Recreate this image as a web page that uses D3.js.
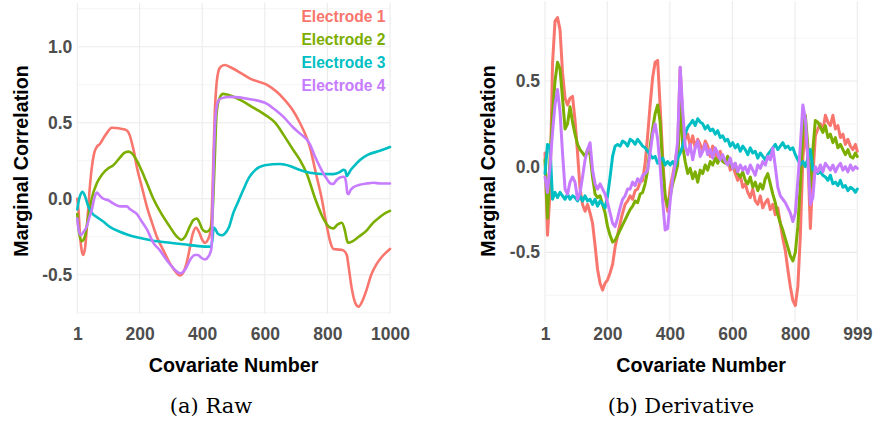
<!DOCTYPE html>
<html>
<head>
<meta charset="utf-8">
<script src="https://cdn.jsdelivr.net/npm/d3@7"></script>
<style>
  body { margin: 0; background: #ffffff; }
  svg { display: block; }
</style>
</head>
<body>
<svg id="chart" width="875" height="424"></svg>
<script>
// ---------- data ----------
const electrodes = ["Electrode 1", "Electrode 2", "Electrode 3", "Electrode 4"];
const electrodeColors = ["#F8766D", "#7CAE00", "#00BFC4", "#C77CFF"];

// Raw marginal correlations: [covariate, correlation]
const rawE1 = [[1,0.0],[5,-0.08],[10,-0.25],[15,-0.34],[20,-0.37],[26,-0.32],[33,-0.15],[40,0.05],[47,0.20],[55,0.30],[63,0.34],[73,0.36],[85,0.40],[98,0.44],[111,0.467],[125,0.465],[140,0.46],[159,0.45],[168,0.42],[175,0.37],[183,0.30],[191,0.21],[207,0.08],[223,-0.05],[240,-0.16],[255,-0.25],[276,-0.34],[297,-0.425],[315,-0.48],[329,-0.505],[338,-0.49],[348,-0.44],[358,-0.35],[370,-0.23],[380,-0.19],[390,-0.22],[400,-0.27],[409,-0.29],[418,-0.27],[425,-0.23],[430,-0.12],[435,0.2],[440,0.55],[446,0.76],[452,0.84],[460,0.87],[473,0.88],[490,0.865],[521,0.83],[553,0.79],[606,0.75],[640,0.70],[659,0.66],[690,0.58],[712,0.50],[728,0.43],[744,0.34],[763,0.17],[782,0.0],[798,-0.18],[810,-0.29],[819,-0.33],[840,-0.335],[851,-0.34],[862,-0.37],[868,-0.45],[877,-0.58],[890,-0.69],[900,-0.71],[910,-0.68],[925,-0.60],[940,-0.50],[957,-0.43],[975,-0.38],[1000,-0.33]];
const rawE2 = [[1,-0.10],[5,-0.20],[15,-0.28],[25,-0.25],[36,-0.12],[47,0.0],[63,0.10],[80,0.16],[100,0.20],[116,0.22],[137,0.27],[150,0.30],[164,0.31],[175,0.30],[190,0.255],[201,0.21],[220,0.12],[244,0.0],[270,-0.10],[297,-0.185],[315,-0.24],[334,-0.27],[345,-0.25],[361,-0.18],[372,-0.14],[383,-0.13],[392,-0.16],[400,-0.20],[409,-0.215],[415,-0.217],[425,-0.20],[430,-0.18],[435,-0.02],[440,0.25],[446,0.56],[455,0.66],[467,0.69],[480,0.685],[521,0.65],[563,0.60],[606,0.545],[633,0.50],[660,0.42],[691,0.32],[712,0.255],[735,0.16],[761,0.0],[787,-0.13],[805,-0.185],[819,-0.195],[832,-0.17],[846,-0.158],[856,-0.21],[862,-0.27],[867,-0.29],[880,-0.28],[900,-0.25],[925,-0.21],[945,-0.16],[968,-0.12],[985,-0.095],[1000,-0.08]];
const rawE3 = [[1,-0.07],[5,-0.02],[10,0.02],[18,0.046],[25,0.02],[36,-0.05],[50,-0.10],[63,-0.12],[84,-0.15],[105,-0.185],[137,-0.217],[160,-0.235],[191,-0.254],[240,-0.275],[297,-0.29],[361,-0.305],[414,-0.315],[428,-0.315],[432,-0.28],[437,-0.19],[442,-0.20],[450,-0.23],[462,-0.24],[472,-0.23],[485,-0.19],[499,-0.096],[515,-0.02],[531,0.057],[550,0.14],[570,0.19],[600,0.22],[649,0.228],[680,0.215],[710,0.19],[744,0.171],[780,0.163],[819,0.162],[840,0.175],[851,0.19],[857,0.185],[862,0.15],[866,0.16],[875,0.19],[890,0.225],[904,0.255],[930,0.29],[968,0.315],[1000,0.34]];
const rawE4 = [[1,-0.13],[5,-0.20],[12,-0.24],[20,-0.22],[30,-0.19],[40,-0.12],[47,-0.075],[55,0.0],[63,0.04],[73,0.02],[84,0.0],[100,-0.01],[115,-0.03],[137,-0.05],[159,-0.05],[170,-0.07],[191,-0.10],[207,-0.15],[223,-0.20],[244,-0.29],[265,-0.34],[285,-0.40],[305,-0.45],[320,-0.48],[329,-0.49],[340,-0.48],[350,-0.45],[362,-0.40],[377,-0.37],[386,-0.37],[398,-0.39],[409,-0.40],[420,-0.38],[425,-0.36],[430,-0.32],[434,0.0],[438,0.32],[442,0.52],[446,0.60],[452,0.645],[460,0.66],[489,0.67],[553,0.655],[606,0.625],[630,0.59],[659,0.54],[690,0.47],[712,0.43],[744,0.36],[760,0.28],[776,0.21],[797,0.134],[810,0.10],[819,0.097],[828,0.12],[840,0.14],[851,0.145],[856,0.14],[860,0.10],[864,0.035],[867,0.03],[875,0.06],[883,0.075],[900,0.09],[925,0.10],[947,0.105],[970,0.10],[1000,0.10]];

// Derivative marginal correlations, sampled on a shared covariate grid
const derivX = [1,9,17,25,33,41,49,57,65,73,
  81,89,97,105,113,121,129,137,145,153,
  161,169,177,185,193,201,209,217,225,233,
  241,249,257,265,273,281,289,297,305,313,
  321,329,337,345,353,361,369,377,385,393,
  401,409,417,425,433,441,449,457,465,473,
  481,489,497,505,513,521,529,537,545,553,
  561,569,577,585,593,601,609,617,625,633,
  641,649,657,665,673,681,689,697,705,713,
  721,729,737,745,753,761,769,777,785,793,
  801,809,817,825,833,841,849,857,865,873,
  881,889,897,905,913,921,929,937,945,953,
  961,969,977,985,993,999];
const derivE1 = [0.08,-0.40,-0.15,0.60,0.85,0.87,0.80,0.55,0.40,0.36,
  0.40,0.41,0.27,0.08,-0.13,-0.22,-0.26,-0.22,-0.27,-0.33,
  -0.46,-0.60,-0.68,-0.72,-0.68,-0.66,-0.62,-0.57,-0.47,-0.40,
  -0.33,-0.27,-0.22,-0.20,-0.17,-0.19,-0.14,-0.13,-0.09,-0.08,
  0.02,0.18,0.36,0.52,0.61,0.62,0.35,0.06,-0.18,-0.26,
  -0.12,-0.05,0.03,0.12,0.58,0.28,0.16,0.19,0.12,0.18,
  0.11,0.16,0.13,0.09,0.15,0.12,0.06,0.12,0.08,0.05,
  0.09,0.04,0.03,0.06,-0.02,0.01,-0.04,-0.08,-0.05,-0.12,
  -0.10,-0.15,-0.18,-0.13,-0.20,-0.22,-0.17,-0.24,-0.21,-0.19,
  -0.25,-0.22,-0.28,-0.24,-0.33,-0.42,-0.49,-0.60,-0.70,-0.78,
  -0.81,-0.70,-0.40,0.05,0.22,0.05,-0.36,-0.05,0.18,0.22,
  0.25,0.21,0.30,0.26,0.24,0.30,0.22,0.24,0.17,0.19,
  0.13,0.16,0.12,0.10,0.13,0.09];
const derivE2 = [0.04,-0.30,0.05,0.30,0.50,0.61,0.57,0.40,0.22,0.25,
  0.35,0.26,0.19,0.13,0.10,0.08,0.06,0.10,0.07,-0.06,
  -0.16,-0.18,-0.17,-0.22,-0.27,-0.35,-0.40,-0.44,-0.43,-0.40,
  -0.37,-0.34,-0.31,-0.28,-0.25,-0.23,-0.20,-0.21,-0.16,-0.15,
  -0.10,-0.02,0.12,0.22,0.31,0.36,0.26,0.00,-0.17,-0.23,
  -0.17,-0.10,-0.05,0.01,0.40,0.12,0.03,-0.04,-0.01,-0.07,
  -0.03,-0.09,-0.02,-0.04,0.01,-0.02,0.03,0.01,0.05,0.02,
  0.06,0.03,0.02,0.06,0.01,-0.01,0.02,-0.04,-0.06,-0.03,
  -0.08,-0.10,-0.06,-0.12,-0.09,-0.14,-0.10,-0.13,-0.07,-0.04,
  -0.10,-0.16,-0.21,-0.28,-0.33,-0.37,-0.42,-0.47,-0.52,-0.55,
  -0.50,-0.35,-0.10,0.20,0.30,0.12,-0.12,0.10,0.27,0.26,
  0.23,0.20,0.24,0.17,0.19,0.14,0.17,0.11,0.13,0.10,
  0.07,0.10,0.06,0.05,0.08,0.06];
const derivE3 = [-0.04,0.13,0.12,-0.19,-0.15,-0.18,-0.15,-0.17,-0.19,-0.16,
  -0.19,-0.17,-0.18,-0.20,-0.17,-0.20,-0.17,-0.20,-0.19,-0.22,
  -0.19,-0.23,-0.20,-0.22,-0.24,-0.17,-0.06,0.06,0.12,0.13,
  0.12,0.15,0.14,0.12,0.16,0.15,0.13,0.16,0.14,0.12,
  0.11,0.09,0.07,0.05,0.06,0.02,0.04,0.05,0.01,0.03,
  0.01,0.03,0.00,0.05,0.08,0.12,0.19,0.23,0.25,0.27,
  0.24,0.28,0.26,0.25,0.22,0.24,0.21,0.22,0.19,0.21,
  0.17,0.18,0.15,0.16,0.12,0.14,0.11,0.13,0.09,0.12,
  0.10,0.07,0.11,0.08,0.09,0.05,0.08,0.06,0.04,0.07,
  0.09,0.11,0.13,0.10,0.12,0.14,0.11,0.12,0.10,0.11,
  0.07,0.04,0.01,0.03,0.00,0.05,0.10,-0.02,-0.01,-0.04,
  -0.03,-0.05,-0.06,-0.08,-0.05,-0.10,-0.09,-0.11,-0.08,-0.12,
  -0.11,-0.14,-0.12,-0.13,-0.15,-0.13];
const derivE4 = [-0.06,-0.15,0.00,0.20,0.36,0.45,0.32,0.08,-0.13,-0.16,
  -0.09,-0.06,-0.09,-0.19,-0.15,-0.06,0.04,0.10,0.14,-0.02,
  -0.10,-0.13,-0.10,-0.13,-0.16,-0.21,-0.27,-0.33,-0.35,-0.30,
  -0.24,-0.19,-0.17,-0.13,-0.13,-0.09,-0.11,-0.07,-0.09,-0.05,
  -0.04,-0.02,0.08,0.19,0.25,0.16,0.00,-0.20,-0.37,-0.36,
  -0.20,-0.07,0.02,0.15,0.58,0.33,0.12,0.07,0.13,0.04,
  0.11,0.15,0.06,0.09,0.13,0.07,0.10,0.05,0.11,0.08,
  0.04,0.07,0.03,0.01,0.05,-0.01,0.02,-0.03,0.01,-0.02,
  0.00,-0.04,0.01,-0.02,-0.05,0.01,-0.01,0.03,0.01,0.06,
  0.04,0.11,0.00,-0.12,-0.17,-0.19,-0.21,-0.24,-0.27,-0.32,
  -0.27,-0.08,0.12,0.36,0.28,0.05,-0.22,-0.18,0.00,-0.03,
  0.01,-0.03,0.02,0.00,-0.02,0.01,-0.03,0.00,0.02,-0.02,
  0.00,-0.03,0.01,-0.02,0.00,-0.01];

const rawXTicks = [1, 200, 400, 600, 800, 1000];
const derivXTicks = [1, 200, 400, 600, 800, 999];
const rawYMajor = [-0.5, 0, 0.5, 1.0];
const rawYMinor = [-0.75, -0.25, 0.25, 0.75, 1.25];
const derivYMajor = [-0.5, 0, 0.5];
const derivYMinor = [-0.75, -0.25, 0.25, 0.75];

// ---------- drawing ----------
const svg = d3.select("#chart");
svg.append("rect").attr("width", 875).attr("height", 424).attr("fill", "#ffffff");

const sansBold = "'Liberation Sans', Arial, Helvetica, sans-serif";

function drawPanel(cfg) {
  const x = d3.scaleLinear().domain(cfg.xDomain).range(cfg.xRange);
  const y = d3.scaleLinear().domain(cfg.yDomain).range(cfg.yRange);
  const g = svg.append("g");
  const [x0, x1] = cfg.xRange;
  const [yb, yt] = cfg.yRange;

  // grid
  const grid = g.append("g").attr("stroke", "#EBEBEB").attr("fill", "none");
  grid.selectAll("line.minor").data(cfg.yMinor).join("line")
    .attr("class", "minor")
    .attr("x1", x0).attr("x2", x1)
    .attr("y1", d => y(d)).attr("y2", d => y(d))
    .attr("stroke-width", 0.55);
  grid.selectAll("line.major").data(cfg.yMajor).join("line")
    .attr("class", "major")
    .attr("x1", x0).attr("x2", x1)
    .attr("y1", d => y(d)).attr("y2", d => y(d))
    .attr("stroke-width", 1.1);
  grid.selectAll("line.vmajor").data(cfg.xTicks).join("line")
    .attr("class", "vmajor")
    .attr("x1", d => x(d)).attr("x2", d => x(d))
    .attr("y1", yt).attr("y2", yb)
    .attr("stroke-width", 1.1);

  // series
  const line = d3.line()
    .x(d => x(d[0])).y(d => y(d[1]))
    .curve(cfg.curve);
  cfg.series.forEach((s, i) => {
    g.append("path")
      .datum(s)
      .attr("fill", "none")
      .attr("stroke", electrodeColors[i])
      .attr("stroke-width", cfg.lineWidth)
      .attr("stroke-linejoin", "round")
      .attr("stroke-linecap", "round")
      .attr("d", line);
  });

  // axes
  const xAxis = d3.axisBottom(x).tickValues(cfg.xTicks).tickSize(0).tickPadding(0)
    .tickFormat(d3.format("d"));
  const xg = g.append("g").attr("transform", "translate(0,327.6)").call(xAxis);
  xg.select(".domain").remove();
  xg.selectAll("text")
    .attr("font-family", sansBold).attr("font-weight", "bold")
    .attr("font-size", 17.5).attr("fill", "#4D4D4D");

  const yAxis = d3.axisLeft(y).tickValues(cfg.yMajor).tickSize(0).tickPadding(0)
    .tickFormat(d => d.toFixed(1));
  const yg = g.append("g").attr("transform", `translate(${cfg.yAxisX},0)`).call(yAxis);
  yg.select(".domain").remove();
  yg.selectAll("text")
    .attr("font-family", sansBold).attr("font-weight", "bold")
    .attr("font-size", 17.5).attr("fill", "#4D4D4D");

  // titles
  g.append("text")
    .attr("x", (x0 + x1) / 2).attr("y", 371.7)
    .attr("text-anchor", "middle")
    .attr("font-family", sansBold).attr("font-weight", "bold")
    .attr("font-size", 19.7).attr("fill", "#000")
    .text("Covariate Number");
  g.append("text")
    .attr("transform", `translate(${cfg.yTitleX},161) rotate(-90)`)
    .attr("text-anchor", "middle")
    .attr("font-family", sansBold).attr("font-weight", "bold")
    .attr("font-size", 19.7).attr("fill", "#000")
    .text("Marginal Correlation");

  // caption
  g.append("text")
    .attr("x", cfg.captionX).attr("y", 412.5)
    .attr("text-anchor", "middle")
    .attr("font-family", "'DejaVu Serif', serif")
    .attr("font-size", 21).attr("fill", "#000")
    .text(cfg.caption);

  return { x, y, g };
}

const rawPanel = drawPanel({
  xDomain: [1, 1000], xRange: [77.3, 390],
  yDomain: [-0.755, 1.2875], yRange: [313.5, 3],
  xTicks: rawXTicks, yMajor: rawYMajor, yMinor: rawYMinor,
  series: [rawE1, rawE2, rawE3, rawE4],
  curve: d3.curveMonotoneX, lineWidth: 2.6,
  yAxisX: 72.3, yTitleX: 27.5,
  caption: "(a) Raw", captionX: 211
});

const derivSeries = [derivE1, derivE2, derivE3, derivE4]
  .map(vals => vals.map((v, i) => [derivX[i], v]));

drawPanel({
  xDomain: [1, 999], xRange: [545, 857.3],
  yDomain: [-0.905, 0.965], yRange: [321.8, 1.3],
  xTicks: derivXTicks, yMajor: derivYMajor, yMinor: derivYMinor,
  series: derivSeries,
  curve: d3.curveLinear, lineWidth: 3,
  yAxisX: 540, yTitleX: 494.5,
  caption: "(b) Derivative", captionX: 681
});

// legend inside the raw panel
const legend = rawPanel.g.append("g");
legend.selectAll("text").data(electrodes).join("text")
  .attr("x", 385.5)
  .attr("y", (d, i) => 22.4 + i * 22.7)
  .attr("text-anchor", "end")
  .attr("font-family", sansBold).attr("font-weight", "bold")
  .attr("font-size", 15.6)
  .attr("fill", (d, i) => electrodeColors[i])
  .text(d => d);
</script>
</body>
</html>
